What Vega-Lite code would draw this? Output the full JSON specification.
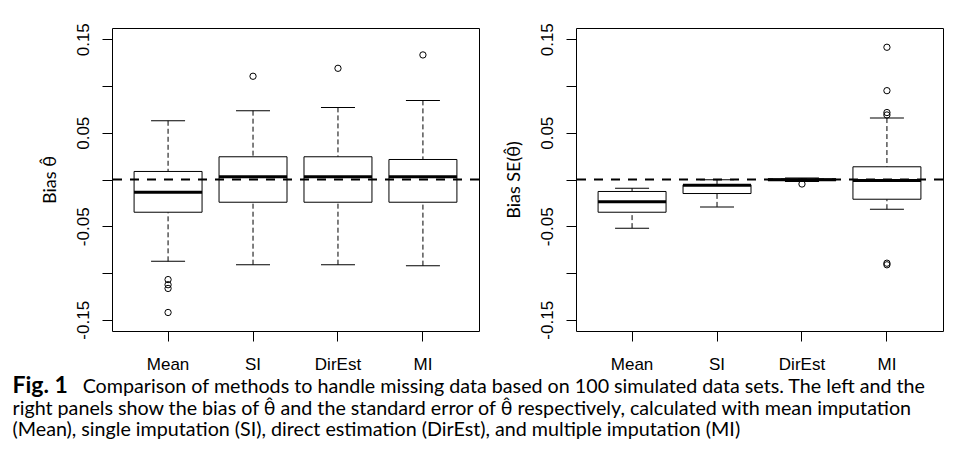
{
  "$schema": "https://vega.github.io/schema/vega-lite/v6.json",
  "background": "white",
  "padding": {"left": 12, "top": 22, "right": 5, "bottom": 5},
  "autosize": {"type": "pad"},
  "datasets": {
    "theta": [
      {"method": "Mean", "lo": -0.0875, "q1": -0.035, "med": -0.0136, "q3": 0.0086, "hi": 0.0628},
      {"method": "SI", "lo": -0.0911, "q1": -0.0243, "med": 0.003, "q3": 0.0243, "hi": 0.0736},
      {"method": "DirEst", "lo": -0.0911, "q1": -0.0243, "med": 0.003, "q3": 0.0243, "hi": 0.0771},
      {"method": "MI", "lo": -0.0921, "q1": -0.0243, "med": 0.003, "q3": 0.0214, "hi": 0.0846}
    ],
    "thetaOut": [
      {"method": "Mean", "value": -0.107},
      {"method": "Mean", "value": -0.1125},
      {"method": "Mean", "value": -0.1165},
      {"method": "Mean", "value": -0.1422},
      {"method": "SI", "value": 0.1104},
      {"method": "DirEst", "value": 0.1189},
      {"method": "MI", "value": 0.1332}
    ],
    "se": [
      {"method": "Mean", "lo": -0.052, "q1": -0.035, "med": -0.0239, "q3": -0.0128, "hi": -0.0093},
      {"method": "SI", "lo": -0.0293, "q1": -0.015, "med": -0.0062, "q3": -0.0057, "hi": -0.0002},
      {"method": "DirEst", "lo": -0.0022, "q1": -0.0008, "med": -0.0002, "q3": 0.0006, "hi": 0.0015},
      {"method": "MI", "lo": -0.0318, "q1": -0.0211, "med": -0.001, "q3": 0.0136, "hi": 0.0657}
    ],
    "seOut": [
      {"method": "DirEst", "value": -0.0048},
      {"method": "MI", "value": 0.1414},
      {"method": "MI", "value": 0.095},
      {"method": "MI", "value": 0.0716},
      {"method": "MI", "value": 0.069},
      {"method": "MI", "value": -0.0895},
      {"method": "MI", "value": -0.0912}
    ],
    "ref": [{"value": 0}]
  },
  "title": {
    "text": "Fig. 1",
    "subtitle": [
      "\u200B\u2003\u2003\u2003\u2003\u2002\u200AComparison of methods to handle missing data based on 100 simulated data sets. The left and the",
      "right panels show the bias of θ̂ and the standard error of θ̂ respectively, calculated with mean imputation",
      "(Mean), single imputation (SI), direct estimation (DirEst), and multiple imputation (MI)"
    ],
    "orient": "bottom",
    "anchor": "start",
    "frame": "bounds",
    "offset": 2,
    "dx": -28,
    "font": "Lato",
    "fontSize": 23,
    "fontWeight": "bold",
    "color": "black",
    "subtitleFont": "Lato",
    "subtitleFontSize": 19.7,
    "subtitleFontWeight": "normal",
    "subtitleColor": "black",
    "subtitlePadding": -20.4,
    "subtitleLineHeight": 21.5
  },
  "spacing": 97,
  "bounds": "flush",
  "hconcat": [
    {
      "width": 367,
      "height": 303,
      "layer": [
        {
          "data": {"name": "theta"},
          "mark": {"type": "rule", "color": "black", "strokeWidth": 1, "strokeDash": [5, 3]},
          "encoding": {
            "x": {"field": "method", "type": "nominal", "scale": {"type": "band", "domain": ["Mean", "SI", "DirEst", "MI"], "paddingInner": 0.2, "paddingOuter": 0.26}, "axis": {"title": null}},
            "y": {"field": "lo", "type": "quantitative", "scale": {"domain": [-0.162, 0.162], "nice": false, "zero": false}, "axis": {"title": "Bias θ̂"}},
            "y2": {"field": "q1"}
          }
        },
        {
          "data": {"name": "theta"},
          "mark": {"type": "rule", "color": "black", "strokeWidth": 1, "strokeDash": [5, 3]},
          "encoding": {
            "x": {"field": "method", "type": "nominal"},
            "y": {"field": "hi", "type": "quantitative"},
            "y2": {"field": "q3"}
          }
        },
        {
          "data": {"name": "theta"},
          "mark": {"type": "bar", "fill": "white", "stroke": "black", "strokeWidth": 1},
          "encoding": {
            "x": {"field": "method", "type": "nominal"},
            "y": {"field": "q1", "type": "quantitative"},
            "y2": {"field": "q3"}
          }
        },
        {
          "data": {"name": "theta"},
          "mark": {"type": "tick", "color": "black", "size": 68, "thickness": 3, "opacity": 1},
          "encoding": {
            "x": {"field": "method", "type": "nominal"},
            "y": {"field": "med", "type": "quantitative"}
          }
        },
        {
          "data": {"name": "theta"},
          "mark": {"type": "tick", "color": "black", "size": 34, "thickness": 1, "opacity": 1},
          "encoding": {
            "x": {"field": "method", "type": "nominal"},
            "y": {"field": "lo", "type": "quantitative"}
          }
        },
        {
          "data": {"name": "theta"},
          "mark": {"type": "tick", "color": "black", "size": 34, "thickness": 1, "opacity": 1},
          "encoding": {
            "x": {"field": "method", "type": "nominal"},
            "y": {"field": "hi", "type": "quantitative"}
          }
        },
        {
          "data": {"name": "thetaOut"},
          "mark": {"type": "point", "filled": false, "stroke": "black", "strokeWidth": 1, "size": 40, "opacity": 1},
          "encoding": {
            "x": {"field": "method", "type": "nominal"},
            "y": {"field": "value", "type": "quantitative"}
          }
        },
        {
          "data": {"name": "ref"},
          "mark": {"type": "rule", "color": "black", "strokeWidth": 2, "strokeDash": [9, 8]},
          "encoding": {
            "y": {"field": "value", "type": "quantitative"}
          }
        }
      ]
    },
    {
      "width": 367,
      "height": 303,
      "layer": [
        {
          "data": {"name": "se"},
          "mark": {"type": "rule", "color": "black", "strokeWidth": 1, "strokeDash": [5, 3]},
          "encoding": {
            "x": {"field": "method", "type": "nominal", "scale": {"type": "band", "domain": ["Mean", "SI", "DirEst", "MI"], "paddingInner": 0.2, "paddingOuter": 0.26}, "axis": {"title": null}},
            "y": {"field": "lo", "type": "quantitative", "scale": {"domain": [-0.162, 0.162], "nice": false, "zero": false}, "axis": {"title": "Bias SE(θ̂)"}},
            "y2": {"field": "q1"}
          }
        },
        {
          "data": {"name": "se"},
          "mark": {"type": "rule", "color": "black", "strokeWidth": 1, "strokeDash": [5, 3]},
          "encoding": {
            "x": {"field": "method", "type": "nominal"},
            "y": {"field": "hi", "type": "quantitative"},
            "y2": {"field": "q3"}
          }
        },
        {
          "data": {"name": "se"},
          "mark": {"type": "bar", "fill": "white", "stroke": "black", "strokeWidth": 1},
          "encoding": {
            "x": {"field": "method", "type": "nominal"},
            "y": {"field": "q1", "type": "quantitative"},
            "y2": {"field": "q3"}
          }
        },
        {
          "data": {"name": "se"},
          "mark": {"type": "tick", "color": "black", "size": 68, "thickness": 3, "opacity": 1},
          "encoding": {
            "x": {"field": "method", "type": "nominal"},
            "y": {"field": "med", "type": "quantitative"}
          }
        },
        {
          "data": {"name": "se"},
          "mark": {"type": "tick", "color": "black", "size": 34, "thickness": 1, "opacity": 1},
          "encoding": {
            "x": {"field": "method", "type": "nominal"},
            "y": {"field": "lo", "type": "quantitative"}
          }
        },
        {
          "data": {"name": "se"},
          "mark": {"type": "tick", "color": "black", "size": 34, "thickness": 1, "opacity": 1},
          "encoding": {
            "x": {"field": "method", "type": "nominal"},
            "y": {"field": "hi", "type": "quantitative"}
          }
        },
        {
          "data": {"name": "seOut"},
          "mark": {"type": "point", "filled": false, "stroke": "black", "strokeWidth": 1, "size": 40, "opacity": 1},
          "encoding": {
            "x": {"field": "method", "type": "nominal"},
            "y": {"field": "value", "type": "quantitative"}
          }
        },
        {
          "data": {"name": "ref"},
          "mark": {"type": "rule", "color": "black", "strokeWidth": 2, "strokeDash": [9, 8]},
          "encoding": {
            "y": {"field": "value", "type": "quantitative"}
          }
        }
      ]
    }
  ],
  "config": {
    "view": {"stroke": "black", "strokeWidth": 1},
    "axis": {
      "grid": false,
      "domain": false,
      "ticks": true,
      "tickSize": 10,
      "tickColor": "black",
      "tickWidth": 1,
      "labelFont": "Liberation Sans",
      "labelFontSize": 17,
      "labelColor": "black",
      "titleFont": "Lato",
      "titleFontSize": 18,
      "titleFontWeight": "normal",
      "titleColor": "black"
    },
    "axisX": {"labelAngle": 0, "labelPadding": 15},
    "axisY": {
      "values": [-0.15, -0.1, -0.05, 0, 0.05, 0.1, 0.15],
      "labelExpr": "abs(datum.value) == 0.05 || abs(datum.value) == 0.15 ? toString(datum.value) : ''",
      "labelAngle": -90,
      "labelAlign": "center",
      "labelBaseline": "bottom",
      "labelPadding": 10,
      "labelOverlap": false,
      "titlePadding": 15
    }
  }
}
